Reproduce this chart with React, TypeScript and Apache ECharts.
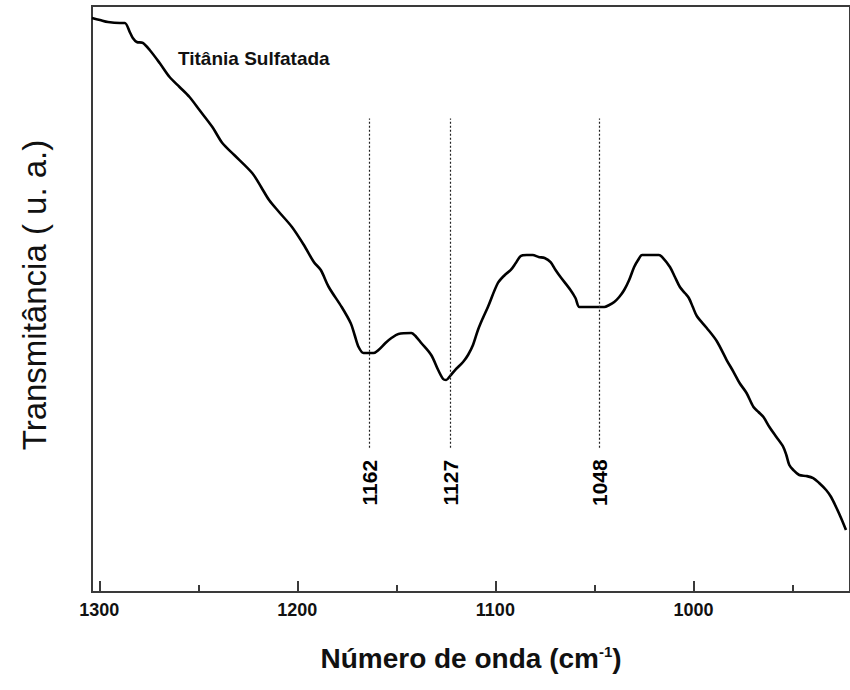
import React, { useEffect, useRef } from "react";
import * as echarts from "echarts";

// Wavenumber (cm^-1) and transmittance (arbitrary units)
const wavenumber = [
  1303.67, 1299.65, 1295.63, 1289.6, 1287.09, 1284.58, 1283.07, 1281.06, 1278.05, 1274.54,
  1269.51, 1264.49, 1259.47, 1254.44, 1249.42, 1242.89, 1237.87, 1231.84, 1222.8, 1218.28,
  1214.26, 1209.24, 1202.71, 1196.69, 1191.66, 1188.15, 1184.13, 1177.6, 1173.08, 1171.07,
  1169.06, 1166.55, 1161.53, 1159.02, 1155.5, 1152.49, 1148.97, 1142.44, 1139.93, 1137.42,
  1132.4, 1128.88, 1126.37, 1124.86, 1122.85, 1120.34, 1116.32, 1113.81, 1111.3, 1108.79,
  1106.28, 1103.77, 1098.74, 1095.23, 1092.22, 1089.7, 1087.19, 1084.18, 1081.17, 1078.15,
  1075.14, 1072.12, 1069.61, 1067.1, 1062.08, 1059.57, 1057.56, 1053.54, 1048.52, 1045.0,
  1042.49, 1039.98, 1037.47, 1034.96, 1032.45, 1029.93, 1027.93, 1025.92, 1020.89, 1017.38,
  1015.87, 1011.85, 1009.34, 1006.83, 1004.32, 1002.31, 1000.3, 998.29, 993.27, 988.25,
  983.22, 979.71, 976.7, 973.18, 969.66, 967.15, 964.64, 961.63, 958.11, 954.6,
  953.09, 951.58, 949.57, 946.56, 943.04, 939.53, 936.51, 933.0, 930.49, 927.98,
  925.46, 922.96,
];
const transmittance = [
  97.95, 97.61, 97.27, 97.1, 97.1, 95.56, 94.54, 93.86, 93.69, 92.49,
  90.27, 87.88, 86.18, 84.47, 82.25, 79.35, 76.62, 74.57, 71.5, 69.11,
  66.89, 64.85, 62.29, 59.22, 56.31, 54.95, 52.05, 48.63, 45.9, 43.86,
  41.81, 40.78, 40.78, 41.3, 42.49, 43.34, 44.03, 44.2, 43.52, 42.49,
  40.44, 37.88, 36.35, 36.18, 36.86, 37.88, 39.25, 40.44, 42.15, 44.71,
  46.76, 48.63, 52.73, 54.1, 54.95, 56.14, 57.34, 57.51, 57.51, 57.17,
  57.0, 56.31, 54.95, 53.75, 51.54, 50.17, 48.63, 48.63, 48.63, 48.63,
  48.98, 49.49, 50.34, 51.54, 53.24, 55.46, 56.66, 57.51, 57.51, 57.51,
  57.17, 55.46, 53.75, 52.05, 51.02, 50.17, 48.63, 47.1, 45.05, 42.83,
  39.59, 37.54, 35.67, 33.96, 31.57, 30.72, 29.86, 28.16, 26.45, 24.74,
  23.38, 21.67, 20.82, 19.97, 19.8, 19.45, 18.6, 17.41, 16.21, 14.51,
  12.63, 10.58,
];

// Band markers
const bandPositions = [1163.8, 1122.6, 1047.6];
const bandLabels = ["1162", "1127", "1048"];
const bandLineTop = 80.8;
const bandLineBottom = 24.6;
const bandLabelY = 19.0;

const majorTicks = [1000, 1100, 1200, 1300];
const minorTicks = [950, 1050, 1150, 1250];
const xMin = 920.94;
const xMax = 1303.67;

export default function App() {
  const ref = useRef<HTMLDivElement>(null);
  useEffect(() => {
    if (!ref.current) return;
    const chart = echarts.init(ref.current, null, { renderer: "svg" });
    const data = wavenumber.map((w, i) => [w, transmittance[i]]);
    const axisColor = "#3a3a3a";
    const font = '"Liberation Sans", Arial, Helvetica, sans-serif';
    chart.setOption({
      animation: false,
      backgroundColor: "#ffffff",
      grid: {
        left: 92,
        top: 6,
        right: -4,
        bottom: 98,
        show: true,
        borderColor: axisColor,
        borderWidth: 2,
        containLabel: false,
      },
      xAxis: [
        {
          type: "value",
          inverse: true,
          min: xMin,
          max: xMax,
          position: "bottom",
          splitLine: { show: false },
          axisLine: { show: true, lineStyle: { color: axisColor, width: 2 } },
          axisTick: {
            show: true,
            inside: true,
            length: 11,
            customValues: majorTicks,
            lineStyle: { color: axisColor, width: 2 },
          },
          axisLabel: {
            show: true,
            customValues: majorTicks,
            formatter: (v: number) => String(Math.round(v)),
            margin: 9,
            color: "#111",
            fontSize: 18,
            fontWeight: "bold",
            fontFamily: font,
          },
          name: "Número de onda (cm{sup|-1})",
          nameLocation: "middle",
          nameGap: 52,
          nameTextStyle: {
            color: "#111",
            fontSize: 28,
            fontWeight: "bold",
            fontFamily: font,
            rich: {
              sup: {
                fontSize: 15,
                fontWeight: "bold",
                fontFamily: font,
                color: "#111",
                verticalAlign: "top",
                padding: [0, 0, 14, 0],
              },
            },
          },
        },
        {
          type: "value",
          inverse: true,
          min: xMin,
          max: xMax,
          position: "bottom",
          splitLine: { show: false },
          axisLine: { show: false },
          axisTick: {
            show: true,
            inside: true,
            length: 7,
            customValues: minorTicks,
            lineStyle: { color: axisColor, width: 2 },
          },
          axisLabel: { show: false },
        },
      ],
      yAxis: {
        type: "value",
        min: 0,
        max: 100,
        splitLine: { show: false },
        axisLine: { show: true, lineStyle: { color: axisColor, width: 2 } },
        axisTick: { show: false },
        axisLabel: { show: false },
        name: "Transmitância ( u. a.)",
        nameLocation: "middle",
        nameGap: 41,
        nameTextStyle: {
          color: "#111",
          fontSize: 33,
          fontFamily: font,
          padding: [0, 0, 0, 8],
        },
      },
      series: [
        {
          type: "line",
          data,
          showSymbol: false,
          symbol: "none",
          smooth: 0.3,
          lineStyle: { color: "#000", width: 2.6 },
          markLine: {
            silent: true,
            symbol: ["none", "none"],
            label: { show: false },
            lineStyle: { color: "#222", width: 1.2, type: [2, 2] },
            data: bandPositions.map((p) => [
              { coord: [p, bandLineBottom] },
              { coord: [p, bandLineTop] },
            ]),
          },
          markPoint: {
            silent: true,
            symbol: "circle",
            symbolSize: 1,
            itemStyle: { color: "rgba(255,255,255,0)" },
            label: {
              show: true,
              position: "inside",
              rotate: 90,
              offset: [-2, 0],
              color: "#000",
              fontSize: 21,
              fontWeight: "bold",
              fontFamily: font,
              formatter: (p: any) => p.name,
            },
            data: bandPositions.map((p, i) => ({
              name: bandLabels[i],
              coord: [p, bandLabelY],
            })),
          },
        },
      ],
      graphic: [
        {
          type: "text",
          left: 178,
          top: 49,
          style: {
            text: "Titânia Sulfatada",
            fill: "#111",
            fontSize: 19,
            fontWeight: "bold",
            fontFamily: font,
          },
        },
      ],
    });
    return () => chart.dispose();
  }, []);
  return (
    <div
      ref={ref}
      style={{ position: "fixed", left: 0, top: 0, width: 850, height: 690 }}
    />
  );
}
